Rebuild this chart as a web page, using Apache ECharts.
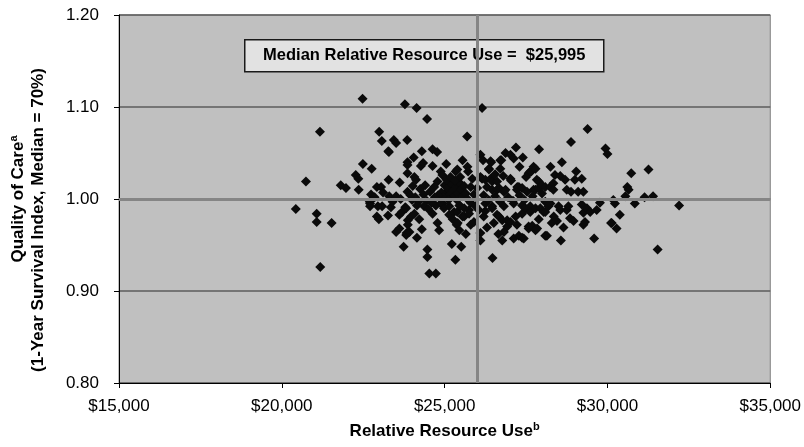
<!DOCTYPE html>
<html>
<head>
<meta charset="utf-8">
<script src="https://cdn.jsdelivr.net/npm/echarts@6/dist/echarts.min.js"></script>
<style>
html,body{margin:0;padding:0;background:#fff;}
#chart{width:804px;height:447px;}
</style>
</head>
<body>
<div id="chart"></div>
<script>
// Relative resource use ($) per facility
const resourceUse = [
20430,20740,21070,21070,21170,21180,21530,21810,21970,22270,22350,22360,22480,22490,22700,22710,22710,22740,22760,22920,
22920,22950,22980,22990,23050,23070,23080,23110,23260,23270,23280,23290,23300,23350,23440,23510,23510,23510,23610,23610,
23620,23690,23740,23780,23790,23820,23820,23830,23850,23860,23860,23860,23860,23870,23870,23920,23970,24020,24070,24070,
24120,24140,24220,24250,24270,24300,24340,24370,24460,24470,24470,24530,24630,24630,24630,24680,24730,24730,24770,24780,
24780,24830,24880,24880,24930,24930,24980,25140,25140,25220,25290,25330,25340,25370,25390,25390,25400,25450,25490,25510,
25550,25600,25600,25690,25700,25720,25750,25750,25800,25800,25850,25900,25000,25050,25100,25150,25200,25250,25300,25350,
25400,25450,25500,25550,25600,25060,25180,25320,24900,24960,25650,25480,24800,25120,25380,26050,26100,26100,26100,26100,
26150,26150,26180,26200,26250,26250,26250,26300,26360,26360,26410,26410,26430,26460,26460,26460,26460,26470,26510,26610,
26610,26610,26670,26670,26710,26710,26740,26770,26770,26820,26820,26820,26870,26870,26920,26920,27020,27020,27040,27020,
27120,27120,27120,27180,27190,27220,27220,27230,27280,27280,27380,27380,27380,27380,27430,27480,27500,27530,27580,27580,
27580,27630,27630,27630,27660,27690,27730,27730,27790,27790,27790,27790,27840,27830,27890,27890,27890,27900,27940,27990,
27990,28040,28090,28090,28090,28090,28140,28190,28240,28250,28290,28340,28340,28350,28390,28450,28500,28550,28550,28570,
28650,28700,28750,28750,28800,28850,28880,28880,28960,29000,29040,29100,29210,29210,29260,29260,29260,29310,29370,29390,
29470,29590,29670,29770,29940,30000,30110,30130,30180,30230,30280,30380,30550,30610,30650,30730,30840,31140,31260,31400,
31540,24100,24200,24350,24450,24550,24600,24150,24400,24500,24000,23950,24700,25700,25800,25900,25950,26000,26200,26350,
26550,26700,26950,27100,27300,27450,27700,25250,25450,25650,26300,26650,24300,24150,23650,23400,22850,24050,25050,25550,
26550,26800,27300,27400,28250,28600,32200
];
// Quality of care (1-year survival index)
const qualityIndex = [
0.989,1.019,0.984,0.975,1.073,0.926,0.974,1.015,1.012,1.026,1.022,1.010,1.109,1.038,0.997,0.995,0.992,1.005,1.033,1.013,
0.981,0.992,0.978,1.073,1.013,1.063,0.992,1.007,0.982,1.052,1.021,1.051,1.003,0.991,1.064,1.061,1.003,0.964,0.983,0.968,
1.018,0.986,0.948,1.103,0.991,0.990,0.961,0.963,1.064,1.040,1.037,1.028,1.008,0.977,0.972,0.964,0.981,1.014,1.024,0.984,
1.021,1.099,0.978,1.011,1.036,1.052,1.039,0.992,1.087,0.945,0.937,0.919,1.054,1.036,0.984,1.013,0.993,0.919,1.051,1.019,
0.974,0.966,1.030,0.995,1.026,0.995,0.990,0.983,0.992,0.951,0.986,0.934,1.030,0.972,1.032,0.986,0.974,0.993,0.992,0.948,
0.981,0.981,0.990,1.068,1.035,1.030,0.988,0.984,1.013,0.972,1.022,0.975,1.015,1.008,1.012,1.004,1.017,1.009,1.003,1.013,
1.006,1.018,1.010,1.003,1.014,1.021,1.024,1.020,1.007,1.002,1.006,1.024,1.004,0.999,0.999,0.988,1.048,1.024,0.963,0.955,
1.099,1.022,1.042,0.981,1.021,0.987,0.995,1.013,1.032,1.033,1.022,1.041,1.040,1.010,0.992,1.019,0.990,0.936,0.974,1.019,
1.010,0.983,0.981,1.012,1.033,1.042,1.042,0.955,0.977,1.008,0.992,0.964,1.050,1.010,0.977,0.970,1.048,1.022,1.020,0.975,
1.044,0.957,0.995,0.981,1.056,0.972,1.010,1.013,1.013,0.960,1.012,0.984,0.958,0.993,0.957,0.990,1.024,1.008,0.970,1.028,
0.968,1.030,0.992,0.986,1.030,0.971,1.035,1.010,1.033,1.010,0.990,0.966,0.968,1.021,1.019,1.012,0.978,1.054,0.990,1.015,
1.006,0.986,1.013,0.997,0.960,0.986,0.960,0.992,1.013,0.995,0.974,1.017,1.010,0.981,1.026,0.976,0.992,1.025,0.988,0.955,
0.969,1.021,1.010,0.988,0.992,0.979,1.062,1.008,0.976,1.021,1.030,1.008,1.022,0.994,1.008,0.985,0.972,0.975,0.990,1.076,
0.986,0.957,0.988,0.996,1.055,1.049,0.974,0.974,0.999,0.995,0.968,0.983,1.003,1.013,1.010,1.028,0.995,1.002,1.032,1.003,
0.945,1.002,0.997,1.005,0.998,1.008,0.996,0.993,1.015,0.989,0.999,1.004,1.002,1.000,0.996,1.005,0.992,1.012,1.004,0.999,
1.003,0.997,1.002,0.998,1.004,0.999,1.003,0.978,0.966,0.962,0.969,0.962,0.967,0.958,1.000,0.997,1.002,1.045,1.038,1.042,
1.027,1.025,1.035,1.045,1.035,1.040,0.993
];
const medianResource = 25995;
const medianQuality = 1.00;
const xTickValues = [15000, 20000, 25000, 30000, 35000];
const yTickValues = [0.80, 0.90, 1.00, 1.10, 1.20];
const annotationText = 'Median Relative Resource Use =  $25,995';

const points = resourceUse.map((x, i) => [x, qualityIndex[i]]);
const FONT = '"Liberation Sans", Arial, sans-serif';

const chart = echarts.init(document.getElementById('chart'), null, {renderer: 'canvas'});
chart.setOption({
  animation: false,
  backgroundColor: '#ffffff',
  grid: {
    left: 118, right: 31, top: 15, bottom: 64,
    show: true, backgroundColor: '#c0c0c0', borderColor: '#808080', borderWidth: 1
  },
  xAxis: {
    type: 'value',
    min: xTickValues[0], max: xTickValues[xTickValues.length - 1], interval: 5000,
    axisLine: {show: true, lineStyle: {color: '#000', width: 1}},
    axisTick: {show: true, inside: false, length: 5, lineStyle: {color: '#000'}},
    splitLine: {show: false},
    axisLabel: {
      color: '#000', fontFamily: FONT, fontSize: 17, margin: 15,
      formatter: v => '$' + v.toLocaleString('en-US')
    },
    name: '{t|Relative Resource Use}{s|b}',
    nameLocation: 'middle', nameGap: 38,
    nameTextStyle: {
      rich: {
        t: {fontFamily: FONT, fontSize: 17, fontWeight: 'bold', color: '#000', lineHeight: 20},
        s: {fontFamily: FONT, fontSize: 11, fontWeight: 'bold', color: '#000', verticalAlign: 'top', lineHeight: 20}
      }
    }
  },
  yAxis: {
    type: 'value',
    min: yTickValues[0], max: yTickValues[yTickValues.length - 1], interval: 0.1,
    axisLine: {show: true, lineStyle: {color: '#000', width: 1}},
    axisTick: {show: true, inside: false, length: 5, lineStyle: {color: '#000'}},
    splitLine: {show: true, lineStyle: {color: '#5c5c5c', width: 1.5}},
    axisLabel: {
      color: '#000', fontFamily: FONT, fontSize: 17, margin: 20,
      formatter: v => v.toFixed(2)
    },
    name: '{t|Quality of Care}{s|a}\n{u|(1-Year Survival Index, Median = 70%)}',
    nameLocation: 'middle', nameGap: 71, nameRotate: 90,
    nameTextStyle: {
      align: 'center',
      rich: {
        t: {fontFamily: FONT, fontSize: 17, fontWeight: 'bold', color: '#000', lineHeight: 20},
        s: {fontFamily: FONT, fontSize: 11, fontWeight: 'bold', color: '#000', verticalAlign: 'top', lineHeight: 20},
        u: {fontFamily: FONT, fontSize: 17, fontWeight: 'bold', color: '#000', lineHeight: 20, padding: [0, 42, 0, 0]}
      }
    }
  },
  series: [{
    type: 'scatter',
    data: points,
    symbol: 'diamond',
    symbolSize: 10,
    itemStyle: {color: '#0a0a0a', opacity: 1},
    markLine: {
      silent: true,
      symbol: ['none', 'none'],
      label: {show: false},
      lineStyle: {color: '#858585', width: 3, type: 'solid', opacity: 1},
      data: [{xAxis: medianResource}, {yAxis: medianQuality}]
    }
  }],
  graphic: [{
    type: 'group', left: 244, top: 39, z: 100,
    children: [
      {type: 'rect', shape: {x: 0, y: 0, width: 359, height: 32},
       style: {fill: '#e2e2e2', stroke: '#1a1a1a', lineWidth: 1.5}},
      {type: 'text', x: 179.5, y: 16,
       style: {text: annotationText, fontFamily: FONT, fontSize: 16.5, fontWeight: 'bold',
               fill: '#000', align: 'center', verticalAlign: 'middle'}}
    ]
  }]
});
</script>
</body>
</html>
